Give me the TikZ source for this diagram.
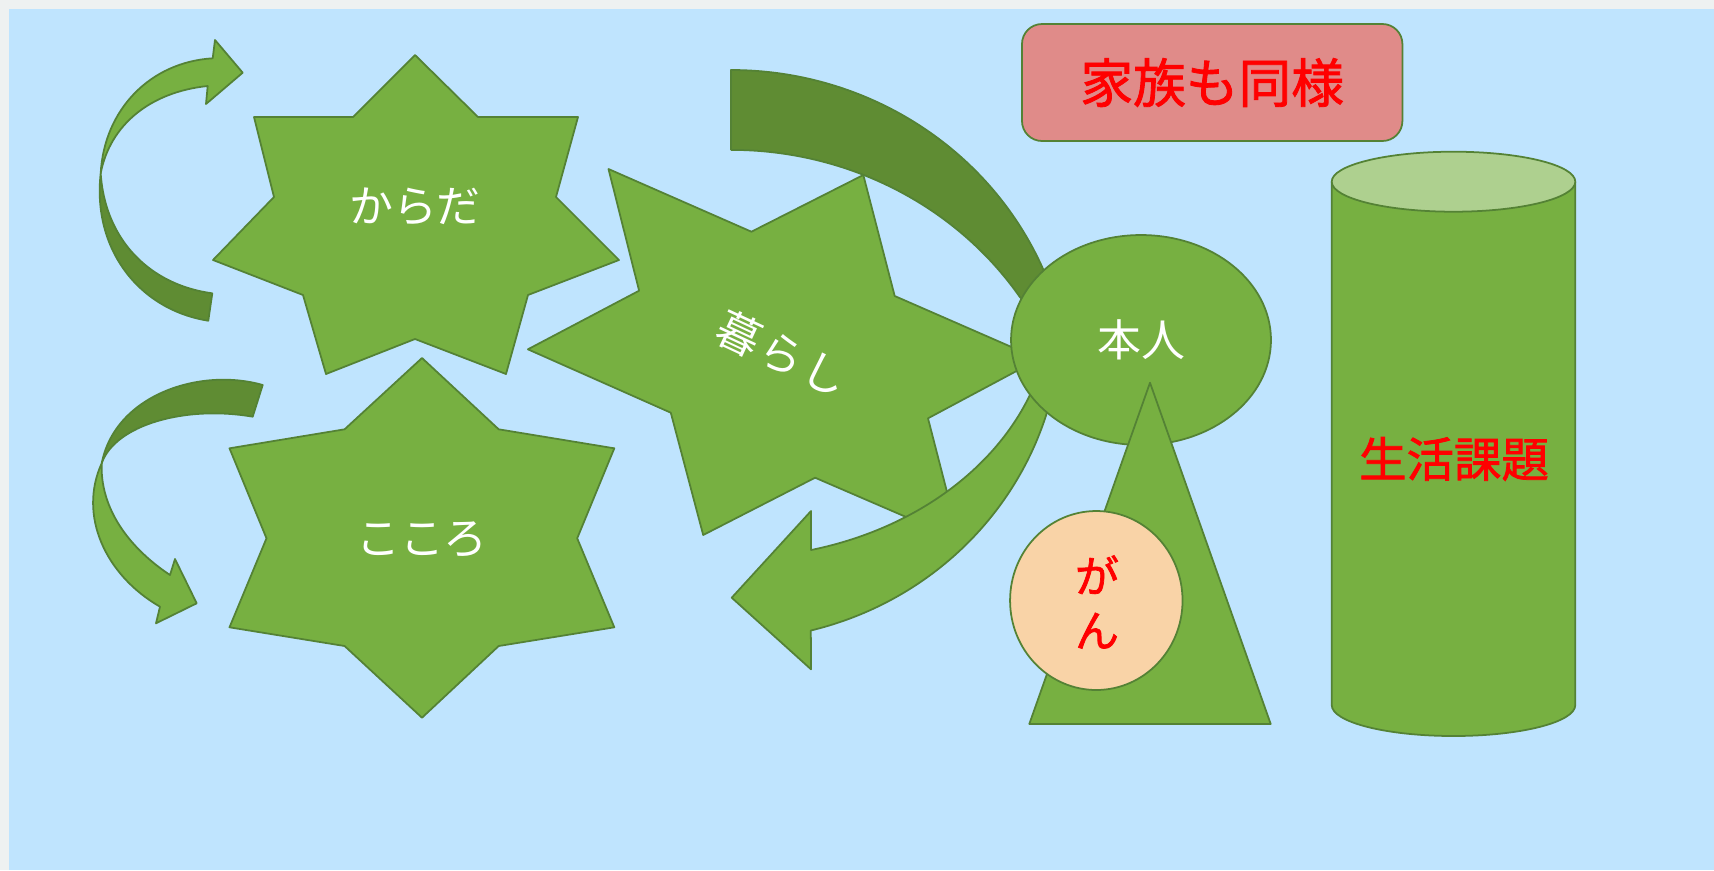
\documentclass[tikz,border=0pt]{standalone}
\usepackage{fontspec}
\newfontfamily\jp{Noto Sans CJK JP}
\newfontfamily\jpm[FakeBold=1.6]{Noto Sans CJK JP}
\usetikzlibrary{shapes.geometric}
\definecolor{bgblue}{RGB}{191,228,254}
\definecolor{stripgray}{RGB}{238,241,241}
\definecolor{lgreen}{RGB}{119,176,65}
\definecolor{dgreen}{RGB}{95,140,51}
\definecolor{edgegreen}{RGB}{84,130,53}
\definecolor{cyltop}{RGB}{174,208,143}
\definecolor{ganfill}{RGB}{249,211,167}
\definecolor{boxpink}{RGB}{224,139,137}
\tikzset{
  shp/.style={fill=lgreen, draw=edgegreen, line width=1pt, line join=round},
  dshp/.style={fill=dgreen, draw=edgegreen, line width=1pt, line join=round},
  wlabel/.style={text=white, inner sep=0pt, font=\jp\fontsize{25}{30}\selectfont},
  rlabel/.style={text=red, inner sep=0pt}
}
\begin{document}
\begin{tikzpicture}[x=0.02cm,y=-0.02cm]
\useasboundingbox (0,0) rectangle (1714,870);
\fill[stripgray] (0,0) rectangle (1714,870);
\fill[bgblue] (9,9) rectangle (1714,870);

% top-left curved arrow
\draw[dshp] (100.7,173.3) .. controls (92,250) and (140,310) .. (208.3,320.7)
  -- (212.3,293.3) .. controls (150,285) and (105,240) .. (100.7,173.3) -- cycle;
\draw[shp] (100.7,173.3) .. controls (104,110) and (150,62) .. (212.7,58.3)
  -- (215,40) -- (242.7,72.7) -- (206,104) -- (207.7,86)
  .. controls (150,92) and (110,125) .. (100.7,173.3) -- cycle;

% bottom-left curved arrow
\draw[dshp] (262.7,385) .. controls (200,367) and (115,395) .. (101.7,463.3)
  .. controls (115,425) and (185,405) .. (252.7,416.7) -- cycle;
\draw[shp] (101.7,463.3) .. controls (78,515) and (105,575) .. (160,606.7)
  -- (156,623.3) -- (196.7,603.3) -- (175,559) -- (170,575)
  .. controls (125,545) and (100,505) .. (101.7,463.3) -- cycle;

% stars
\draw[shp] (415,55) -- (478,117) -- (578,117) -- (556,197) -- (619,260) -- (528,295)
  -- (506,374) -- (415,339) -- (326,374) -- (303,295) -- (213,260) -- (274,197)
  -- (254,117) -- (353,117) -- cycle;
\node[wlabel] (karada) at (415,207) {からだ};

\draw[shp] (422,358) -- (498.7,429.3) -- (614.3,448.3) -- (577.2,538.3) -- (614.3,627.3)
  -- (498.7,646) -- (422,717.7) -- (344.6,646) -- (229.5,627.3) -- (266.5,538.3)
  -- (229.5,448.3) -- (344.6,429.3) -- cycle;
\node[wlabel] (kokoro) at (422,540) {こころ};

\draw[shp] (608.5,169) -- (751.4,231.7) -- (863.3,175) -- (894.7,296) -- (1039,359)
  -- (928,418.3) -- (959.4,540) -- (815.1,477.7) -- (703.2,535) -- (670.8,412.7)
  -- (527.9,349.3) -- (639.1,290.7) -- cycle;
\node[wlabel, rotate=-25] (kurashi) at (782,354) {暮\hspace{2pt}ら\hspace{2pt}し};

% big curved arrow
\draw[dshp] (731,70) arc[start angle=-90, end angle=-23, x radius=340, y radius=330]
  -- (1050,330) -- (1019.7,296.8)
  arc[start angle=-33.7, end angle=-90, x radius=347, y radius=330] -- cycle;
\draw[shp] (1061,320) arc[start angle=0, end angle=76, x radius=330, y radius=320]
  -- (811,669.3) -- (731.7,597.7) -- (811,511) -- (811.1,550)
  arc[start angle=75.5, end angle=0, x radius=320, y radius=253.7] -- cycle;

% person, triangle, cancer
\node[ellipse, shp, inner sep=0pt, minimum width=5.2cm, minimum height=4.2cm,
  text=white, font=\jp\fontsize{25}{30}\selectfont] (honin) at (1141,340) {本人};
\draw[shp] (1150,382.7) -- (1270.7,724) -- (1029.3,724) -- cycle;
\node[ellipse, fill=ganfill, draw=edgegreen, line width=1pt, inner sep=0pt,
  minimum width=3.45cm, minimum height=3.58cm] (ganbg) at (1096.3,600.5) {};
\node[rlabel, align=center, font=\jpm\fontsize{25}{31}\selectfont] (gan) at (1097,602) {が\\ん};

% family box
\node[rectangle, rounded corners=0.4cm, fill=boxpink, draw=edgegreen, line width=1pt,
  minimum width=7.61cm, minimum height=2.34cm, inner sep=0pt, text=red,
  font=\jpm\fontsize{30}{36}\selectfont] (family) at (1212.2,82.5) {家族も同様};

% cylinder
\draw[shp] (1331.7,181.7) -- (1331.7,705)
  arc[start angle=180, end angle=0, x radius=121.8, y radius=31]
  -- (1575.3,181.7) -- cycle;
\draw[fill=cyltop, draw=edgegreen, line width=1pt] (1453.5,181.7) ellipse [x radius=121.8, y radius=30];
\node[rlabel, font=\jpm\fontsize{27}{32}\selectfont] (kadai) at (1454,459) {生活課題};
\end{tikzpicture}
\end{document}
